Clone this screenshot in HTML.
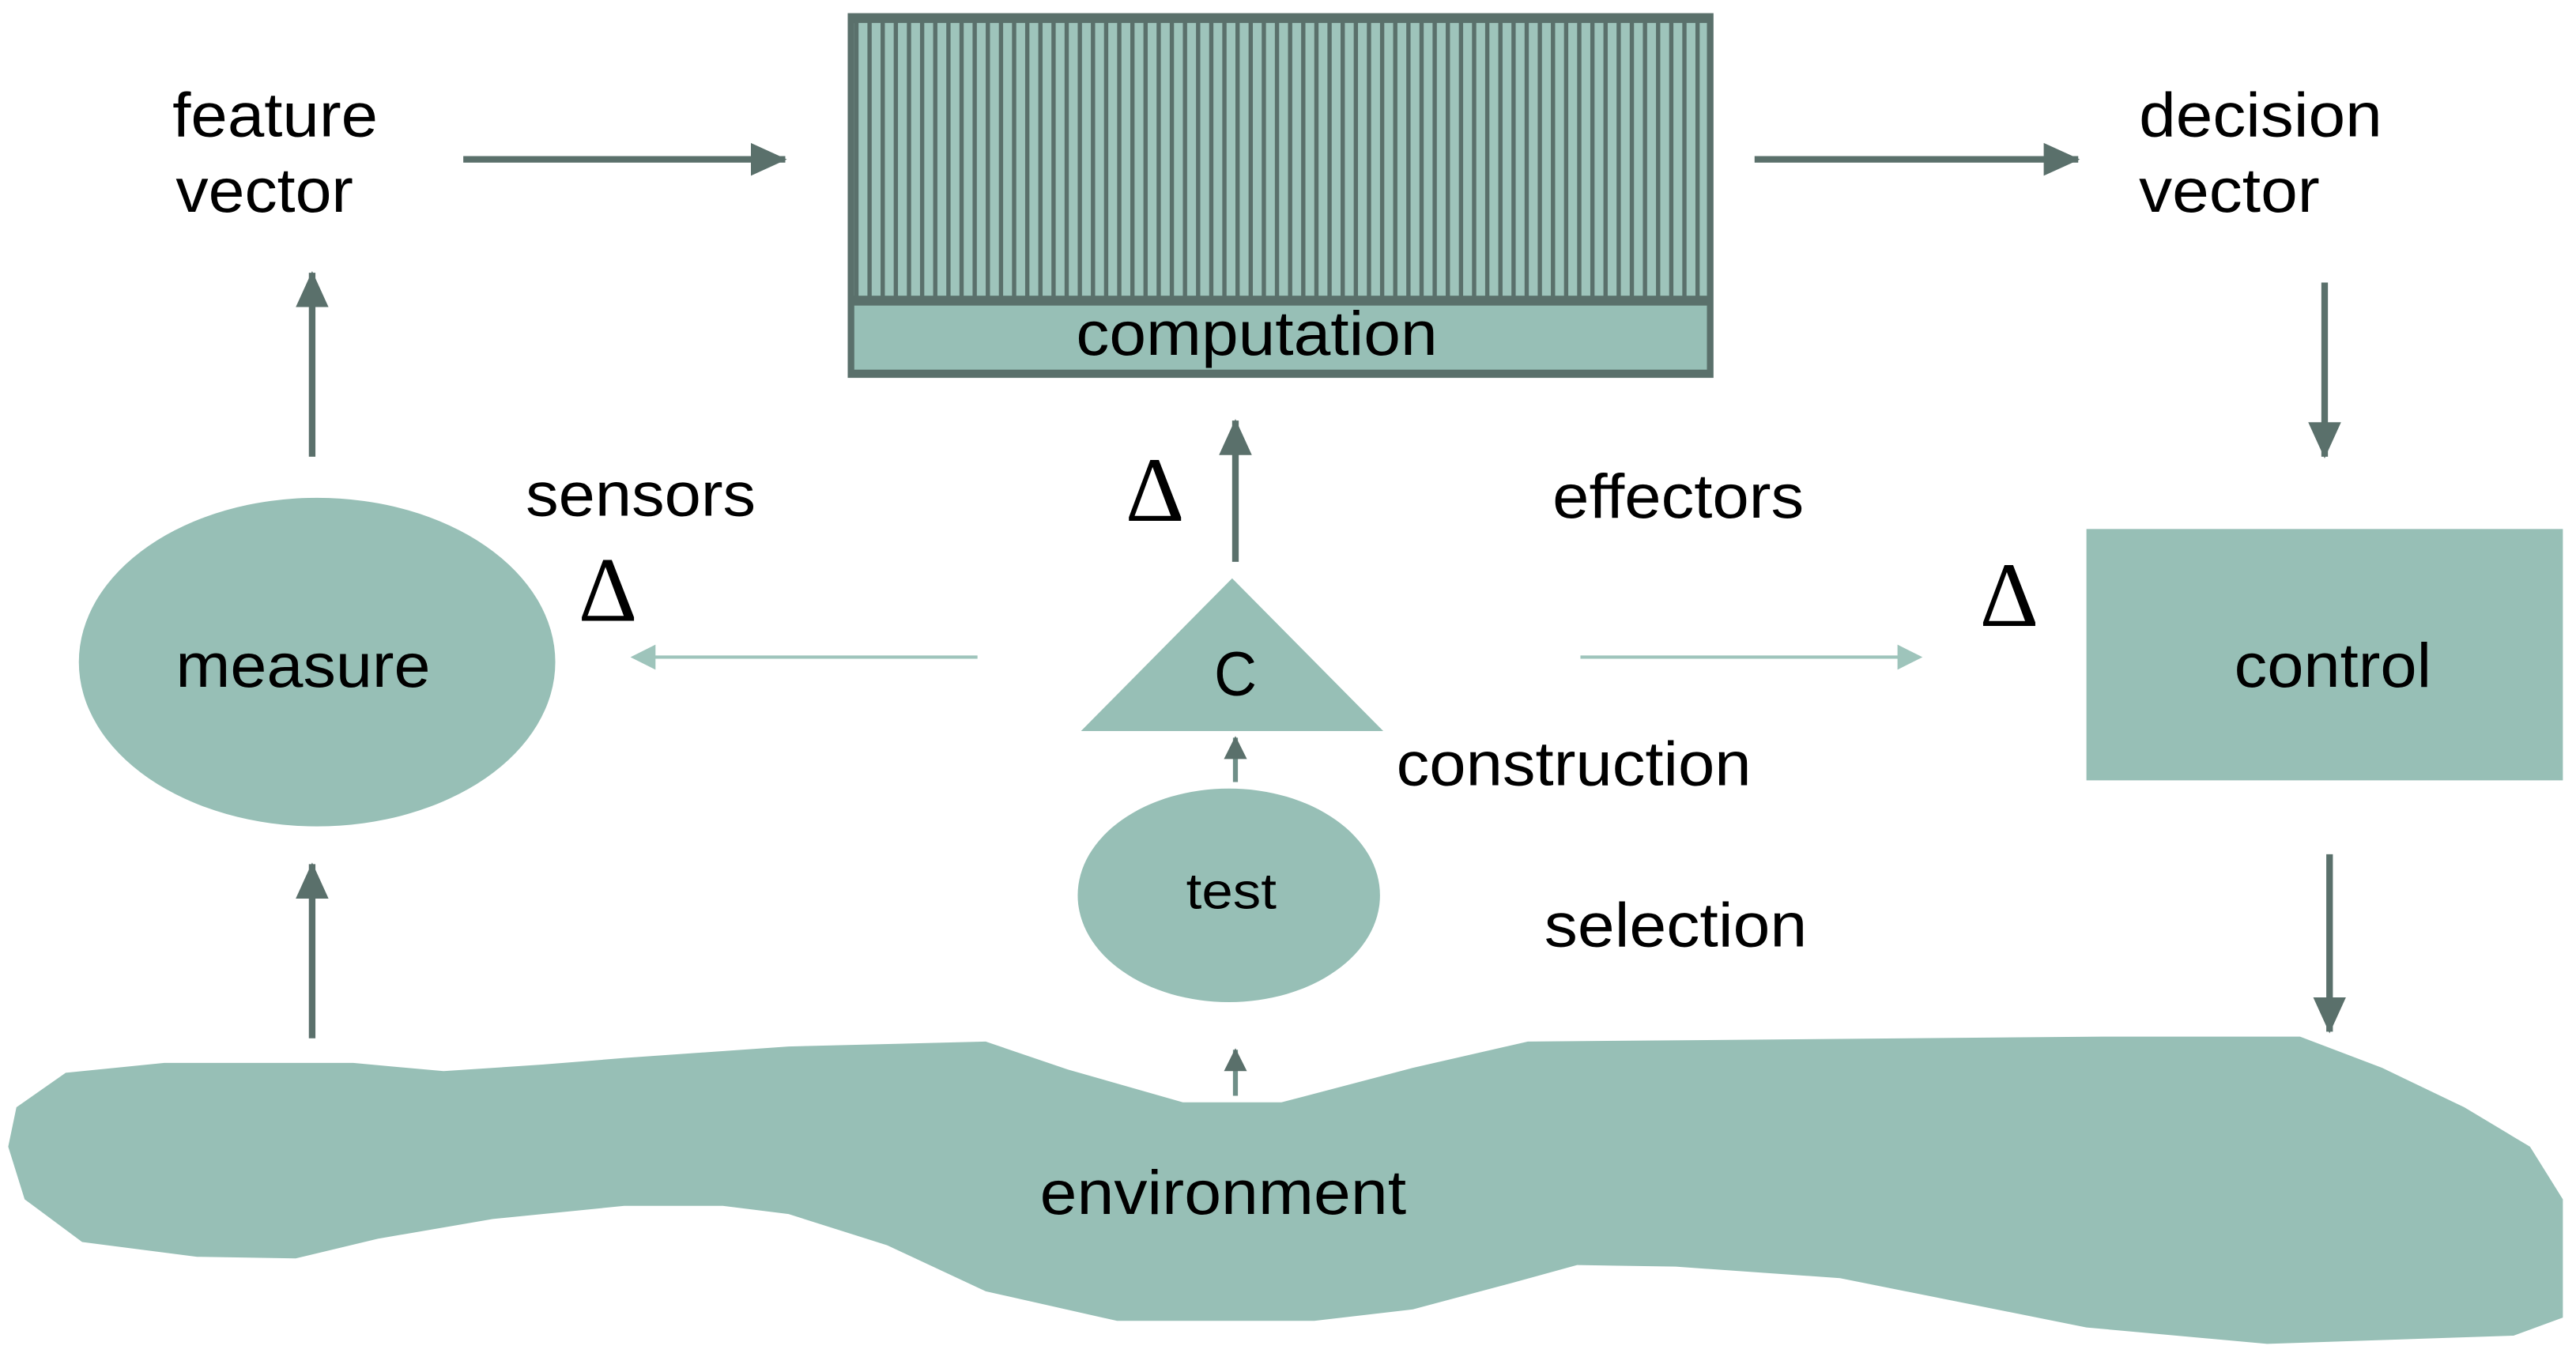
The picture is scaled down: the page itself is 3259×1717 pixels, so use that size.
<!DOCTYPE html>
<html><head><style>html,body{margin:0;padding:0;background:#fff}svg{display:block}</style></head>
<body>
<svg width="3259" height="1717" viewBox="0 0 1568 826" preserveAspectRatio="none" xmlns="http://www.w3.org/2000/svg" font-family="Liberation Sans, sans-serif">
<defs>
<pattern id="st" width="8" height="10" patternUnits="userSpaceOnUse">
<rect width="8" height="10" fill="#9ec4bb"/><rect x="0" width="2.6" height="10" fill="#5a706b"/>
</pattern>
<marker id="ad" markerWidth="22" markerHeight="20" refX="21" refY="10" orient="auto" markerUnits="userSpaceOnUse" viewBox="0 0 22 20"><path d="M0,0 L22,10 L0,20z" fill="#5a706b"/></marker>
<marker id="as" markerWidth="14" markerHeight="14" refX="13" refY="7" orient="auto" markerUnits="userSpaceOnUse" viewBox="0 0 14 14"><path d="M0,0 L14,7 L0,14z" fill="#5a706b"/></marker>
</defs>
<g fill="#97bfb6">
<rect x="516" y="8" width="527" height="222" fill="#5a706b"/>
<rect x="520" y="14" width="519" height="166" fill="url(#st)"/>
<rect x="520" y="186" width="519" height="39" fill="#97bfb6"/>
<rect x="1270" y="322" width="290" height="153"/>
<ellipse cx="193" cy="403" rx="145" ry="100"/>
<polygon points="750,352 842,445 658,445"/>
<ellipse cx="748" cy="545" rx="92" ry="65"/>
<path d="M10,674 L40,653 L100,647 L215,647 L270,652 L330,648 L380,644 L480,637 L600,634 L650,651 L720,671 L780,671 L860,650 L930,634 L1280,631 L1400,631 L1450,650 L1500,674 L1540,698 L1560,730 L1560,802 L1530,813 L1380,818 L1270,808 L1120,778 L1020,771 L960,770 L920,781 L860,797 L800,804 L680,804 L600,786 L540,758 L480,739 L440,734 L380,734 L300,742 L230,754 L180,766 L120,765 L50,756 L15,730 L5,698 Z"/>
</g>
<g stroke="#5a706b" stroke-width="4" fill="none" marker-end="url(#ad)">
<line x1="282" y1="97" x2="478" y2="97"/>
<line x1="1068" y1="97" x2="1265" y2="97"/>
<line x1="1415" y1="172" x2="1415" y2="278"/>
<line x1="190" y1="278" x2="190" y2="166"/>
<line x1="190" y1="632" x2="190" y2="526"/>
<line x1="752" y1="342" x2="752" y2="256"/>
<line x1="1418" y1="520" x2="1418" y2="628"/>
</g>
<g stroke="#6f8f88" stroke-width="3" fill="none">
<line x1="752" y1="476" x2="752" y2="449" marker-end="url(#as)"/>
<line x1="752" y1="667" x2="752" y2="639" marker-end="url(#as)"/>
</g>
<g stroke="#9ec4bb" stroke-width="2" fill="#9ec4bb">
<line x1="595" y1="400" x2="392" y2="400"/><path d="M386,400 L398,394 L398,406z"/>
<line x1="962" y1="400" x2="1162" y2="400"/><path d="M1168,400 L1156,394 L1156,406z"/>
</g>
<g font-size="38" fill="#000">
<text x="105" y="83" textLength="125" lengthAdjust="spacingAndGlyphs">feature</text>
<text x="107" y="129" textLength="108" lengthAdjust="spacingAndGlyphs">vector</text>
<text x="1302" y="83" textLength="148" lengthAdjust="spacingAndGlyphs">decision</text>
<text x="1302" y="129" textLength="110" lengthAdjust="spacingAndGlyphs">vector</text>
<text x="655" y="216" textLength="220" lengthAdjust="spacingAndGlyphs">computation</text>
<text x="320" y="314" textLength="140" lengthAdjust="spacingAndGlyphs">sensors</text>
<text x="945" y="315" textLength="153" lengthAdjust="spacingAndGlyphs">effectors</text>
<text x="107" y="418" textLength="155" lengthAdjust="spacingAndGlyphs">measure</text>
<text x="1360" y="418" textLength="120" lengthAdjust="spacingAndGlyphs">control</text>
<text x="739" y="423" textLength="26" lengthAdjust="spacingAndGlyphs">C</text>
<text x="850" y="478" textLength="216" lengthAdjust="spacingAndGlyphs">construction</text>
<text x="940" y="576" textLength="160" lengthAdjust="spacingAndGlyphs">selection</text>
<text x="633" y="739" textLength="223" lengthAdjust="spacingAndGlyphs">environment</text>
<text x="722" y="553" font-size="31" textLength="55" lengthAdjust="spacingAndGlyphs">test</text>
</g>
<g font-family="Liberation Serif, serif" font-size="56" fill="#000">
<text x="352" y="378">Δ</text>
<text x="685" y="317">Δ</text>
<text x="1205" y="381">Δ</text>
</g>
</svg>
</body></html>
